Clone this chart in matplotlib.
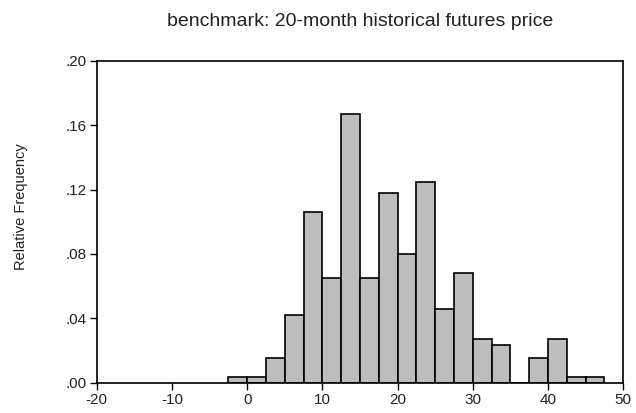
import matplotlib
matplotlib.use("Agg")
import matplotlib.pyplot as plt
import numpy as np

bin_edges = [-2.5, 0, 2.5, 5, 7.5, 10, 12.5, 15, 17.5, 20, 22.5, 25, 27.5, 30, 32.5, 35, 37.5, 40, 42.5, 45, 47.5]
rel_freq = [0.0037, 0.0037, 0.0153, 0.042, 0.1063, 0.065, 0.1668, 0.065, 0.1178, 0.0797,
            0.125, 0.046, 0.068, 0.027, 0.0236, 0.0, 0.0153, 0.027, 0.0037, 0.0037]
x_ticks = [-20, -10, 0, 10, 20, 30, 40, 50]
y_ticks = [0.0, 0.04, 0.08, 0.12, 0.16, 0.20]
y_ticklabels = [".00", ".04", ".08", ".12", ".16", ".20"]

plt.rcParams['font.family'] = ['Liberation Sans', 'DejaVu Sans']
txt_color = '#222222'
fig = plt.figure(figsize=(6.36, 4.13), dpi=100)
ax = fig.add_axes([0.152, 0.073, 0.828, 0.780])

lefts = np.array(bin_edges[:-1])
widths = np.diff(bin_edges)
ax.bar(lefts, rel_freq, width=widths, align='edge', color='#bdbdbd',
       edgecolor='black', linewidth=1.2)

ax.set_xlim(-20, 50)
ax.set_ylim(0, 0.20)
ax.set_xticks(x_ticks)
ax.set_xticklabels([str(t) for t in x_ticks])
ax.set_yticks(y_ticks)
ax.set_yticklabels(y_ticklabels)
ax.tick_params(axis='both', direction='out', length=5, width=1, labelsize=11,
               pad=2, labelcolor=txt_color)
ax.tick_params(axis='y', right=False)
ax.tick_params(axis='x', top=False)
for s in ax.spines.values():
    s.set_linewidth(1.2)
fig.text(0.033, 0.50, "Relative Frequency", rotation=90, ha='center', va='center',
         fontsize=10.5, color=txt_color)
fig.text(0.566, 0.947, "benchmark: 20-month historical futures price", ha='center',
         va='center', fontsize=14, color=txt_color)

fig.savefig("out.png", dpi=100)
